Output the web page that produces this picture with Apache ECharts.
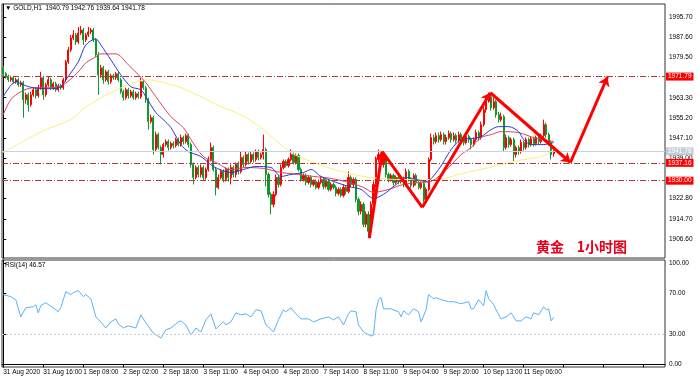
<!DOCTYPE html>
<html><head><meta charset="utf-8">
<script src="https://cdn.jsdelivr.net/npm/echarts@6/dist/echarts.min.js"></script>
<style>html,body{margin:0;padding:0;background:#fff}#c{width:700px;height:381px}</style>
</head><body><div id="c"></div>
<script>
// ---------- DATA ----------
const symbolName = 'GOLD,H1';
const lastOHLC = [1940.79, 1942.76, 1939.64, 1941.78];
const rsiName = 'RSI(14)';
const rsiLast = 46.57;
const chartTitle = '黄金    1小时图';
const SLOTS = 265; // bar slots on the time axis (incl. right margin)

const timeLabels = ['31 Aug 2020','31 Aug 16:00','1 Sep 09:00','2 Sep 02:00','2 Sep 18:00','3 Sep 11:00',
  '4 Sep 04:00','4 Sep 20:00','7 Sep 14:00','8 Sep 11:00','9 Sep 04:00','9 Sep 20:00','10 Sep 13:00','11 Sep 06:00'];

const priceTicks = [1906.6,1914.7,1922.8,1930.9,1939.0,1947.1,1955.2,1963.3,1971.4,1979.5,1987.6,1995.7];
const hiddenPriceLabels = [1930.9, 1971.4];
const rsiTicks = [0, 30, 70, 100];
const rsiLevel = 30;

const levelLines = [1971.79, 1937.16, 1930.00];
const lastPrice = 1941.78;

// [open, close, low, high]
const candles = [
[1975.3,1972.9,1972.1,1976.1],[1972.9,1971.7,1970.9,1973.7],[1971.7,1970.5,1969.7,1972.5],[1970.5,1971.3,1969.7,1972.1],
[1971.3,1969.7,1968.9,1972.1],[1969.7,1970.5,1968.9,1971.3],[1970.5,1968.5,1967.7,1971.3],[1968.5,1969.3,1967.7,1970.1],
[1969.3,1962.5,1955.3,1970.1],[1962.5,1964.5,1960.9,1965.3],[1964.5,1960.5,1957.7,1965.3],[1960.5,1964.5,1959.7,1965.7],
[1964.5,1966.5,1963.7,1967.3],[1966.5,1964.1,1962.9,1967.3],[1964.1,1967.3,1963.3,1968.5],[1967.3,1971.3,1966.5,1973.7],
[1971.3,1964.5,1962.5,1972.1],[1964.5,1968.5,1963.7,1969.3],[1968.5,1970.5,1967.7,1971.7],[1970.5,1967.3,1966.5,1971.3],
[1967.3,1968.9,1966.5,1969.7],[1968.9,1966.5,1965.7,1969.7],[1966.5,1968.1,1965.7,1968.9],[1968.1,1967.3,1966.5,1968.9],
[1967.3,1970.5,1966.5,1971.3],[1970.5,1977.7,1969.7,1978.5],[1977.7,1982.5,1976.9,1983.7],[1982.5,1987.3,1981.7,1988.5],
[1987.3,1988.5,1986.5,1990.5],[1988.5,1985.7,1984.5,1989.3],[1985.7,1989.3,1984.9,1991.7],[1989.3,1990.5,1988.5,1992.1],
[1990.5,1986.5,1984.5,1991.3],[1986.5,1988.5,1985.7,1989.3],[1988.5,1989.7,1987.7,1991.7],[1989.7,1990.5,1988.9,1991.3],
[1990.5,1986.5,1985.7,1991.3],[1986.5,1980.5,1979.7,1987.3],[1980.5,1972.5,1964.5,1981.7],[1972.5,1975.3,1971.3,1976.5],
[1975.3,1970.5,1968.9,1976.1],[1970.5,1973.7,1969.7,1974.5],[1973.7,1969.7,1968.5,1974.5],[1969.7,1972.1,1968.9,1972.9],
[1972.1,1971.3,1970.5,1972.9],[1971.3,1972.9,1970.5,1973.7],[1972.9,1970.5,1969.7,1973.7],[1970.5,1965.7,1964.9,1971.3],
[1965.7,1963.3,1962.1,1966.5],[1963.3,1966.5,1962.5,1967.3],[1966.5,1964.1,1962.9,1967.3],[1964.1,1965.7,1963.3,1966.5],
[1965.7,1963.3,1962.5,1966.5],[1963.3,1964.9,1962.5,1965.7],[1964.9,1963.7,1962.9,1965.7],[1963.7,1969.7,1962.9,1971.3],
[1969.7,1967.3,1966.5,1970.5],[1967.3,1962.5,1961.3,1968.1],[1962.5,1953.7,1950.5,1963.3],[1953.7,1955.3,1952.9,1956.5],
[1955.3,1942.5,1940.5,1956.1],[1942.5,1948.5,1941.7,1949.7],[1948.5,1943.3,1942.5,1949.3],[1943.3,1940.5,1936.5,1944.1],
[1940.5,1944.5,1939.3,1945.3],[1944.5,1945.7,1943.7,1946.5],[1945.7,1943.3,1942.1,1946.5],[1943.3,1944.9,1942.5,1945.7],
[1944.9,1944.1,1942.9,1945.7],[1944.1,1946.5,1943.3,1947.3],[1946.5,1944.5,1943.7,1947.3],[1944.5,1947.3,1943.7,1948.5],
[1947.3,1945.7,1944.5,1948.1],[1945.7,1948.1,1944.9,1948.9],[1948.1,1944.5,1943.3,1948.9],[1944.5,1936.5,1935.3,1945.3],
[1936.5,1931.3,1928.5,1937.3],[1931.3,1935.3,1930.5,1936.1],[1935.3,1932.5,1931.3,1936.1],[1932.5,1935.3,1931.3,1936.5],
[1935.3,1931.3,1930.1,1936.1],[1931.3,1934.5,1930.5,1935.3],[1934.5,1938.5,1933.7,1939.7],[1938.5,1943.3,1937.7,1945.3],
[1943.3,1934.5,1933.7,1944.1],[1934.5,1927.3,1924.1,1935.3],[1927.3,1931.3,1926.5,1932.5],[1931.3,1933.7,1930.5,1934.5],
[1933.7,1930.5,1929.3,1934.5],[1930.5,1934.5,1929.7,1935.3],[1934.5,1931.3,1929.7,1935.3],[1931.3,1935.3,1928.5,1936.5],
[1935.3,1932.5,1931.3,1936.1],[1932.5,1936.5,1931.3,1937.3],[1936.5,1933.7,1932.5,1937.7],[1933.7,1939.3,1932.9,1941.7],
[1939.3,1936.5,1935.3,1940.1],[1936.5,1940.5,1935.7,1941.7],[1940.5,1937.7,1936.5,1941.3],[1937.7,1940.5,1936.9,1941.7],
[1940.5,1938.5,1937.3,1941.3],[1938.5,1941.7,1937.7,1942.5],[1941.7,1939.3,1938.1,1942.5],[1939.3,1940.5,1938.5,1941.3],
[1940.5,1942.5,1938.5,1948.5],[1942.5,1932.5,1927.7,1943.3],[1932.5,1924.5,1923.3,1933.3],[1924.5,1920.5,1916.5,1925.3],
[1920.5,1924.5,1919.3,1925.7],[1924.5,1931.3,1923.7,1932.5],[1931.3,1928.5,1927.3,1932.1],[1928.5,1935.3,1927.7,1936.5],
[1935.3,1937.7,1934.5,1938.5],[1937.7,1936.1,1935.3,1938.5],[1936.1,1938.5,1935.3,1939.3],[1938.5,1940.5,1937.7,1942.5],
[1940.5,1937.3,1936.5,1941.3],[1937.3,1940.1,1936.5,1940.9],[1940.1,1934.5,1933.7,1940.9],[1934.5,1930.5,1929.7,1935.3],
[1930.5,1932.1,1929.7,1932.9],[1932.1,1929.3,1928.1,1932.9],[1929.3,1931.3,1928.5,1932.1],[1931.3,1928.5,1927.3,1932.1],
[1928.5,1929.7,1927.7,1930.5],[1929.7,1927.3,1926.5,1930.5],[1927.3,1929.3,1926.5,1930.5],[1929.3,1930.5,1928.5,1931.7],
[1930.5,1927.7,1926.5,1931.3],[1927.7,1929.7,1926.9,1930.5],[1929.7,1926.5,1925.7,1930.5],[1926.5,1928.5,1925.7,1929.3],
[1928.5,1927.3,1926.5,1929.3],[1927.3,1924.9,1923.7,1928.1],[1924.9,1926.5,1924.1,1927.3],[1926.5,1924.1,1923.3,1927.3],
[1924.1,1927.3,1923.3,1928.5],[1927.3,1925.7,1924.5,1928.1],[1925.7,1931.3,1924.9,1933.7],[1931.3,1928.5,1927.3,1932.1],
[1928.5,1930.5,1927.3,1931.3],[1930.5,1922.5,1921.3,1931.3],[1922.5,1917.7,1916.1,1923.3],[1917.7,1920.5,1916.5,1921.7],
[1920.5,1912.5,1911.3,1921.3],[1912.5,1916.5,1911.3,1917.7],[1916.5,1909.7,1907.3,1917.7],[1909.7,1920.5,1908.5,1921.7],
[1920.5,1928.5,1919.3,1929.7],[1928.5,1938.5,1927.3,1939.7],[1938.5,1940.5,1937.3,1942.5],[1940.5,1936.5,1935.3,1941.3],
[1936.5,1939.3,1935.3,1940.5],[1939.3,1932.5,1931.3,1940.1],[1932.5,1930.5,1929.3,1933.3],[1930.5,1932.1,1929.7,1932.9],
[1932.1,1929.3,1928.1,1932.9],[1929.3,1931.3,1928.5,1932.1],[1931.3,1929.7,1928.5,1932.1],[1929.7,1930.9,1928.9,1931.7],
[1930.9,1928.5,1927.3,1931.7],[1928.5,1933.7,1927.7,1934.9],[1933.7,1930.5,1929.7,1934.5],[1930.5,1928.1,1926.9,1931.3],
[1928.1,1932.1,1927.3,1932.9],[1932.1,1929.3,1928.1,1932.9],[1929.3,1927.3,1926.5,1930.1],[1927.3,1928.9,1926.5,1929.7],
[1928.9,1922.5,1921.3,1929.7],[1922.5,1926.5,1921.3,1927.3],[1926.5,1938.5,1925.7,1939.3],[1938.5,1947.3,1937.7,1948.9],
[1947.3,1945.7,1944.5,1948.5],[1945.7,1948.1,1944.9,1949.3],[1948.1,1946.5,1945.3,1949.3],[1946.5,1948.5,1945.7,1949.7],
[1948.5,1945.7,1944.5,1949.3],[1945.7,1947.3,1944.5,1948.5],[1947.3,1948.9,1946.5,1950.1],[1948.9,1946.5,1945.3,1949.7],
[1946.5,1948.1,1945.7,1949.3],[1948.1,1946.1,1944.9,1948.9],[1946.1,1948.5,1945.3,1949.7],[1948.5,1946.9,1945.7,1949.3],
[1946.9,1945.3,1944.1,1947.7],[1945.3,1947.7,1944.5,1948.5],[1947.7,1946.5,1945.3,1948.5],[1946.5,1944.5,1942.5,1947.3],
[1944.5,1946.5,1943.7,1947.3],[1946.5,1949.3,1945.7,1950.5],[1949.3,1947.3,1946.1,1950.1],[1947.3,1952.5,1946.5,1953.7],
[1952.5,1958.5,1951.7,1959.7],[1958.5,1962.5,1957.3,1963.7],[1962.5,1963.7,1961.3,1965.3],[1963.7,1959.3,1958.1,1964.5],
[1959.3,1961.7,1958.5,1963.3],[1961.7,1956.5,1955.3,1962.5],[1956.5,1954.5,1953.3,1957.7],[1954.5,1955.7,1953.7,1957.3],
[1955.7,1943.3,1941.7,1956.5],[1943.3,1947.3,1942.5,1948.5],[1947.3,1944.5,1943.3,1948.1],[1944.5,1946.5,1943.7,1947.3],
[1946.5,1940.5,1937.7,1947.3],[1940.5,1943.3,1939.3,1944.1],[1943.3,1941.7,1940.5,1944.1],[1941.7,1945.3,1940.9,1946.5],
[1945.3,1943.3,1942.1,1946.1],[1943.3,1946.5,1942.5,1947.3],[1946.5,1944.5,1943.3,1947.3],[1944.5,1946.9,1943.7,1947.7],
[1946.9,1944.9,1943.7,1947.7],[1944.9,1947.3,1944.1,1948.1],[1947.3,1945.7,1944.5,1948.1],[1945.7,1948.1,1944.9,1948.9],
[1948.1,1952.5,1947.3,1954.5],[1952.5,1948.5,1947.3,1953.3],[1948.5,1945.3,1944.1,1949.3],[1945.3,1940.5,1938.5,1946.1],
[1940.79,1941.78,1939.64,1942.76]
];

// moving averages: [bar index, price]
const maFast = [[0,1963.7],[5,1969.7],[8,1968.5],[12,1967.3],[19,1966.9],[23,1967.7],[25,1970.5],[30,1977.7],[33,1984.5],
[37,1986.9],[39,1984.5],[43,1978.5],[47,1972.5],[51,1967.7],[55,1966.5],[57,1963.7],[61,1957.3],[64,1954.5],[67,1951.3],
[71,1944.5],[74,1941.7],[79,1939.7],[84,1935.7],[91,1933.3],[96,1934.5],[101,1935.7],[107,1935.3],[111,1931.7],[115,1932.5],
[120,1933.3],[123,1934.5],[127,1931.7],[132,1929.7],[138,1927.7],[143,1926.5],[148,1922.9],[152,1924.5],[157,1928.5],
[161,1931.3],[165,1930.5],[169,1929.7],[174,1934.5],[179,1942.5],[183,1946.5],[187,1946.9],[191,1947.7],[195,1950.5],
[198,1951.7],[202,1951.7],[206,1949.7],[208,1946.5],[211,1944.5],[216,1944.5],[220,1945.3]];
const maMid = [[0,1956.5],[3,1962.5],[7,1965.7],[12,1967.3],[19,1967.3],[24,1968.5],[30,1973.7],[33,1977.3],[37,1979.7],
[39,1980.9],[45,1980.9],[50,1976.5],[54,1972.5],[57,1969.3],[61,1963.7],[67,1955.7],[72,1951.3],[75,1946.5],[80,1939.7],
[85,1937.3],[91,1934.5],[97,1935.3],[104,1934.9],[111,1933.3],[118,1932.5],[124,1931.7],[131,1930.9],[138,1929.3],
[144,1927.3],[148,1925.3],[154,1926.5],[160,1928.5],[167,1929.3],[171,1929.7],[178,1935.3],[183,1940.5],[187,1943.3],
[191,1947.3],[195,1948.5],[199,1949.7],[206,1949.3],[212,1947.3],[220,1945.7]];
const maSlow = [[0,1941.3],[7,1945.3],[17,1950.5],[27,1954.5],[33,1959.7],[43,1965.3],[50,1968.5],[57,1970.5],[61,1970.1],
[70,1967.7],[79,1963.7],[87,1959.7],[95,1956.5],[103,1951.3],[115,1941.3],[124,1937.3],[135,1933.7],[144,1931.7],
[151,1930.9],[157,1930.5],[165,1930.5],[174,1930.5],[182,1932.5],[187,1933.7],[196,1935.7],[206,1938.1],[215,1939.7],[220,1942.5]];

// RSI(14): [bar index, value]
const rsi = [[0,69],[3,67],[5,64],[7,47],[9,56],[12,57],[13,59],[14,51],[15,58],[17,61],[21,54],[22,52],[23,56],[25,72],
[27,69],[28,71],[30,73],[32,67],[33,69],[35,65],[37,47],[39,42],[41,36],[43,42],[45,45],[46,40],[48,36],[50,38],[53,36],
[55,49],[57,41],[60,31],[63,26],[65,34],[67,36],[70,42],[71,43],[73,39],[75,29],[77,36],[79,32],[81,44],[83,50],[85,35],
[87,40],[88,42],[89,39],[91,42],[93,51],[95,49],[97,50],[99,47],[101,54],[103,53],[105,39],[106,37],[108,32],[110,44],
[112,54],[113,52],[115,56],[117,50],[119,45],[122,45],[124,42],[127,45],[130,47],[132,44],[134,47],[136,39],[138,50],
[139,53],[141,52],[142,39],[144,32],[147,28],[148,29],[149,54],[150,64],[151,66],[152,55],[155,55],[158,52],[159,47],
[160,53],[162,49],[164,55],[166,52],[167,42],[169,54],[170,69],[172,65],[173,66],[175,64],[178,62],[180,62],[183,60],
[186,62],[187,55],[188,55],[190,64],[192,58],[193,73],[194,65],[196,59],[197,54],[199,45],[201,47],[203,51],[205,43],
[207,43],[209,47],[211,45],[212,51],[214,49],[216,57],[217,54],[218,55],[219,43],[220,46.57]];

// hand-drawn forecast path: [bar index, price]
const forecast = [[146.3,1906.9],[151.5,1941.7],[167.5,1919.3],[194.7,1965.3],[226.7,1937.3],[241.5,1971.7]];

// ---------- CHART ----------
const slots = Array.from({length: SLOTS}, (_, i) => String(i));
const chart = echarts.init(document.getElementById('c'), null, {renderer: 'canvas'});
const FONT = 'Liberation Sans';
const fmt2 = v => Number(v).toFixed(2);

const segs = [];
for (let k = 0; k < forecast.length - 1; k++) {
  segs.push({coords: [forecast[k], forecast[k + 1]], symbol: k === 1 ? ['none', 'none'] : ['none', 'arrow']});
}

const levelData = levelLines.map(v => ({
  yAxis: v,
  lineStyle: {color: '#b03a3a', type: [6, 2, 1, 2], width: 1},
  label: {show: true, position: 'end', distance: 1, formatter: fmt2(v), backgroundColor: '#ff0000',
    color: '#fff', fontSize: 6.5, fontFamily: FONT, padding: [1, 2, 0, 2]}
}));
levelData.push({
  yAxis: lastPrice,
  lineStyle: {color: '#c6d2e6', type: 'solid', width: 1},
  label: {show: true, position: 'end', distance: 1, formatter: fmt2(lastPrice), backgroundColor: '#c4ccd8',
    color: '#fff', fontSize: 6.5, fontFamily: FONT, padding: [1, 2, 0, 2]}
});

const axisCommon = {
  axisLine: {show: true, lineStyle: {color: '#000', width: 1}},
  axisTick: {show: true, inside: false, length: 3, lineStyle: {color: '#000'}},
  splitLine: {show: false}
};

chart.setOption({
  animation: false,
  backgroundColor: '#fff',
  grid: [
    {left: 2, right: 35, top: 4, height: 254, show: true, borderColor: '#333', borderWidth: 1, backgroundColor: '#fff'},
    {left: 2, right: 35, top: 260, height: 107, show: true, borderColor: '#333', borderWidth: 1, backgroundColor: '#fff'}
  ],
  xAxis: [
    {type: 'category', gridIndex: 0, data: slots, boundaryGap: true, show: false},
    {type: 'category', gridIndex: 1, data: slots, boundaryGap: true,
      axisLine: {show: true, lineStyle: {color: '#000'}},
      axisTick: {show: true, interval: 15, alignWithLabel: true, length: 3, lineStyle: {color: '#000'}},
      axisLabel: {interval: 15, align: 'left', margin: 2, fontSize: 6.5, fontFamily: FONT, color: '#000',
        formatter: (v, idx) => timeLabels[idx / 16] || ''}},
    {type: 'value', gridIndex: 0, min: -0.5, max: SLOTS - 0.5, show: false},
    {type: 'value', gridIndex: 1, min: -0.5, max: SLOTS - 0.5, show: false}
  ],
  yAxis: [
    Object.assign({type: 'value', gridIndex: 0, position: 'right', min: 1898.97, max: 2000.92,
      axisLabel: {fontSize: 6.5, fontFamily: FONT, color: '#000', margin: 4,
        customValues: priceTicks.filter(v => hiddenPriceLabels.indexOf(v) < 0), formatter: fmt2}}, axisCommon,
      {axisTick: {show: true, length: 3, customValues: priceTicks, lineStyle: {color: '#000'}}}),
    Object.assign({type: 'value', gridIndex: 1, position: 'right', min: -2.67, max: 103.3,
      axisLabel: {fontSize: 6.5, fontFamily: FONT, color: '#000', margin: 4, customValues: rsiTicks, formatter: fmt2}},
      axisCommon, {axisTick: {show: true, length: 3, customValues: rsiTicks, lineStyle: {color: '#000'}}})
  ],
  graphic: [
    {type: 'text', left: 5, top: 5, style: {text: '\u25BC ' + symbolName + '  ' + lastOHLC.map(fmt2).join(' '),
      fontSize: 6.5, fontFamily: FONT, fill: '#000'}},
    {type: 'text', left: 5, top: 262, style: {text: rsiName + ' ' + fmt2(rsiLast), fontSize: 6.5, fontFamily: FONT, fill: '#000'}},
    {type: 'text', left: 536, top: 240, style: {text: chartTitle, fontSize: 14, fontWeight: 'bold',
      fontFamily: 'Noto Sans CJK SC', fill: '#e8001a'}}
  ],
  series: [
    {type: 'candlestick', xAxisIndex: 0, yAxisIndex: 0, data: candles, barWidth: 1.6,
      itemStyle: {color: '#ff0000', color0: '#0c9a2c', borderColor: '#ff0000', borderColor0: '#0c9a2c', borderWidth: 1},
      markLine: {silent: true, symbol: ['none', 'none'], animation: false, data: levelData}},
    {type: 'line', xAxisIndex: 2, yAxisIndex: 0, data: maSlow, showSymbol: false, smooth: 0.3,
      lineStyle: {color: '#fbf07a', width: 1}},
    {type: 'line', xAxisIndex: 2, yAxisIndex: 0, data: maMid, showSymbol: false, smooth: 0.3,
      lineStyle: {color: '#e0405a', width: 1}},
    {type: 'line', xAxisIndex: 2, yAxisIndex: 0, data: maFast, showSymbol: false, smooth: 0.3,
      lineStyle: {color: '#2838d0', width: 1}},
    {type: 'lines', coordinateSystem: 'cartesian2d', xAxisIndex: 2, yAxisIndex: 0, z: 10,
      symbolSize: 9, lineStyle: {color: '#ff0000', width: 3, opacity: 1},
      data: segs},
    {type: 'line', xAxisIndex: 3, yAxisIndex: 1, data: rsi, showSymbol: false,
      lineStyle: {color: '#58b4f4', width: 1},
      markLine: {silent: true, symbol: ['none', 'none'], label: {show: false},
        lineStyle: {color: '#c8ccd8', type: [2, 2], width: 1}, data: [{yAxis: rsiLevel}]}}
  ]
});
</script>
</body></html>
